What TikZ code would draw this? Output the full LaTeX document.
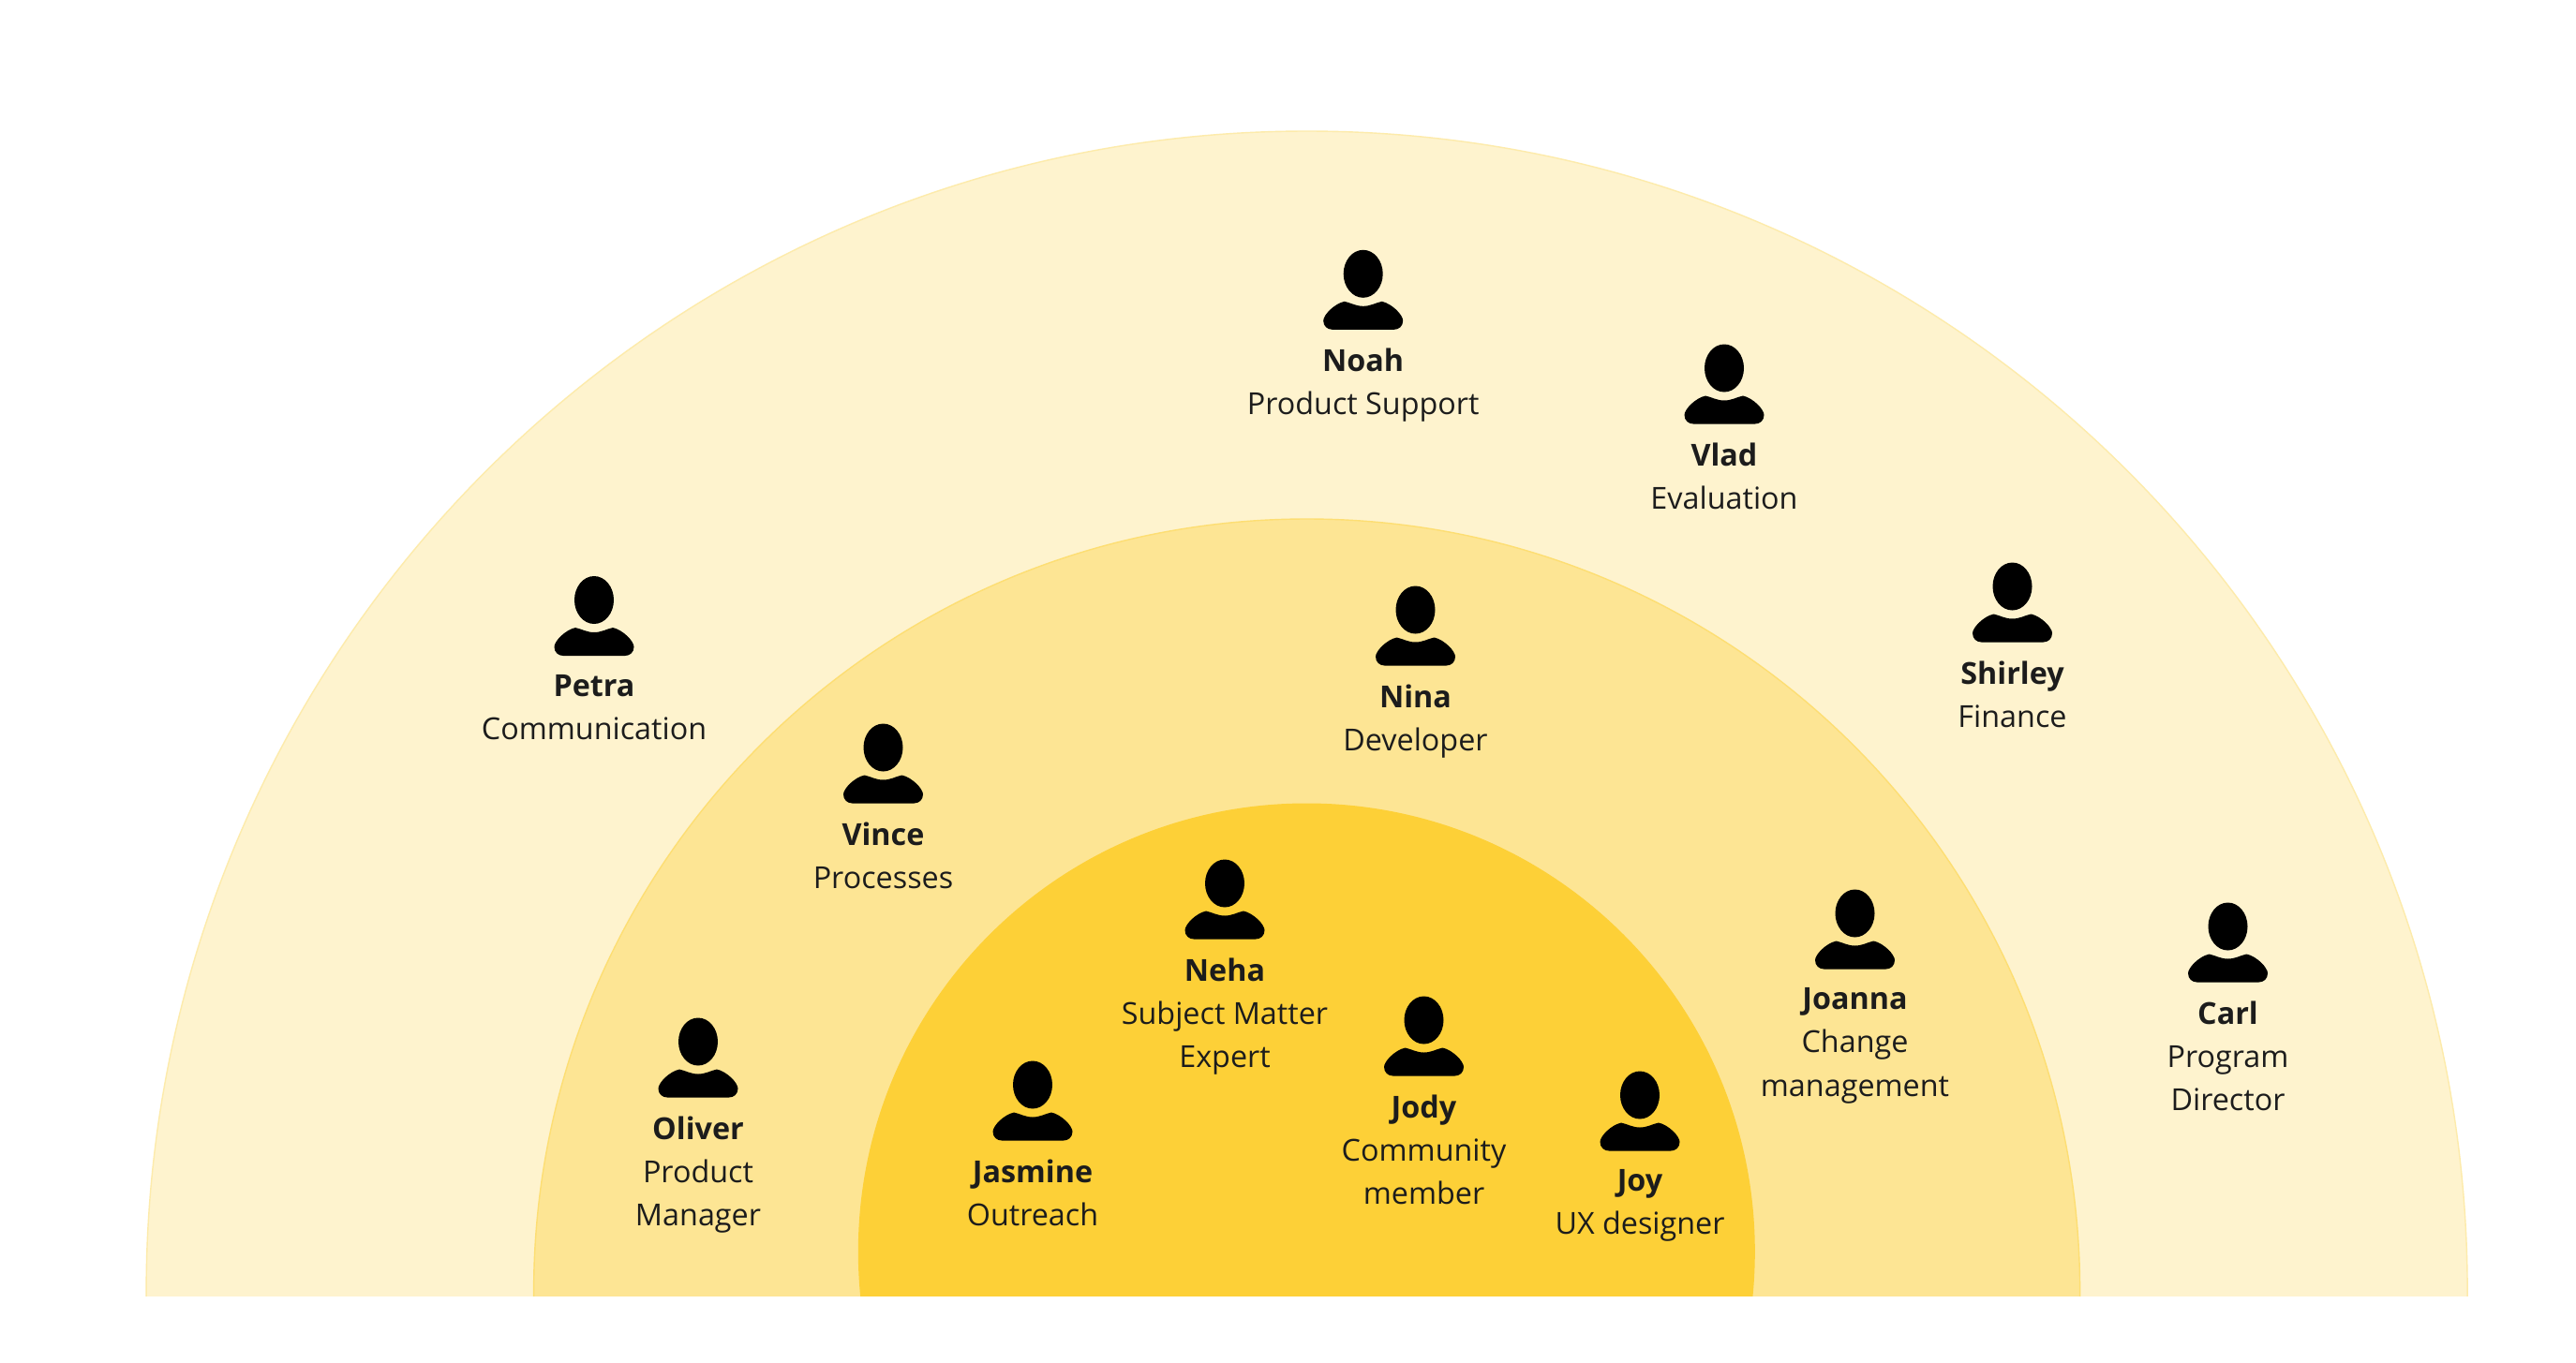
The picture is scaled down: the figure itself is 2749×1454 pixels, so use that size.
\documentclass[tikz,border=0pt]{standalone}
\usepackage{fontspec}
\setmainfont{Open Sans}
\definecolor{ringouter}{HTML}{FEF3CE}
\definecolor{ringmid}{HTML}{FDE594}
\definecolor{ringinner}{HTML}{FDD037}
\definecolor{inktext}{HTML}{1C1C1C}
\tikzset{
  x=0.02cm,y=-0.02cm,
  persontext/.style={anchor=north,inner sep=0pt,align=center,text=inktext,
    font=\fontsize{18.4}{26.2}\selectfont},
  personmark/.style={fill=black,draw=none},
}
% #1 name, #2 x, #3 y (head centre), #4 text
\newcommand{\person}[4]{%
  \begin{scope}[shift={(#2,#3)}]
    \fill[personmark] (0,0) ellipse [x radius=21,y radius=25.5];
    \fill[personmark] (-42.5,50) .. controls (-42.5,44) and (-31,32) .. (-20,29.5)
      .. controls (-13,31) and (-8,34.5) .. (0,34.5)
      .. controls (8,34.5) and (13,31) .. (20,29.5)
      .. controls (31,32) and (42.5,44) .. (42.5,50)
      .. controls (42.5,56) and (38,59.5) .. (33,59.5)
      -- (-33,59.5) .. controls (-38,59.5) and (-42.5,56) .. (-42.5,50) -- cycle;
    \node[persontext] (#1) at (0,79.5) {#4};
  \end{scope}}
\begin{document}
\begin{tikzpicture}
\useasboundingbox (0,0) rectangle (2749,1454);
\fill[white] (0,0) rectangle (2749,1454);
\begin{scope}
  \clip (0,0) rectangle (2749,1383.5);
  \fill[ringouter] (1394.6,1378.5) circle [radius=1238.5];
  \draw[draw=ringmid!60!ringouter,line width=0.8] (1394.6,1378.5) circle [radius=1238.5];
  \fill[ringmid] (1394.6,1379) circle [radius=825];
  \draw[draw=ringinner!35!ringmid,line width=0.8] (1394.6,1379) circle [radius=825];
  \fill[ringinner] (1394.3,1336) circle [radius=478.5];
\end{scope}
\person{noah}{1454.7}{292.3}{\textbf{Noah}\\Product Support}
\person{vlad}{1840}{393}{\textbf{Vlad}\\Evaluation}
\person{petra}{634}{640.5}{\textbf{Petra}\\Communication}
\person{shirley}{2147.5}{626}{\textbf{Shirley}\\Finance}
\person{nina}{1510.5}{651}{\textbf{Nina}\\Developer}
\person{vince}{942.5}{798}{\textbf{Vince}\\Processes}
\person{neha}{1307}{943}{\textbf{Neha}\\Subject Matter\\Expert}
\person{joanna}{1979.5}{975}{\textbf{Joanna}\\Change\\management}
\person{carl}{2377.5}{989}{\textbf{Carl}\\Program\\Director}
\person{jody}{1519.5}{1089}{\textbf{Jody}\\Community\\member}
\person{oliver}{745}{1112}{\textbf{Oliver}\\Product\\Manager}
\person{jasmine}{1102}{1158}{\textbf{Jasmine}\\Outreach}
\person{joy}{1750}{1169}{\textbf{Joy}\\UX designer}
\end{tikzpicture}
\end{document}
